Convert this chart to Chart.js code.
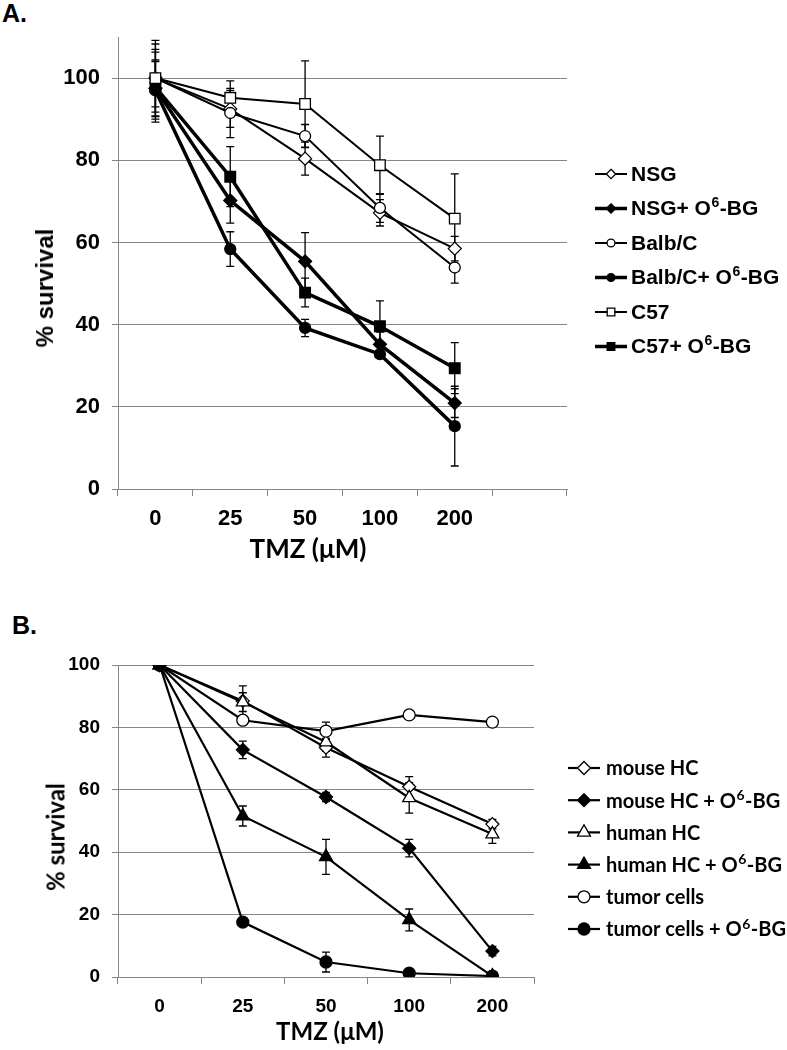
<!DOCTYPE html>
<html>
<head>
<meta charset="utf-8">
<script src="https://cdn.jsdelivr.net/npm/chart.js@4.4.1/dist/chart.umd.min.js"></script>
<style>
  body { margin: 0; background: #fff; width: 787px; height: 1050px; position: relative; overflow: hidden; }
  .panel { position: absolute; left: 0; width: 787px; }
  #boxA { top: 0; height: 570px; }
  #boxB { top: 570px; height: 480px; }
  .tag { position: absolute; font: bold 25px "Liberation Sans", Arial, sans-serif; color: #000; }
  .ttl { position: absolute; color: #000; font-weight: bold; white-space: nowrap; transform: translate(-50%, -50%); }
  .rot { transform: translate(-50%, -50%) rotate(-90deg); }
</style>
</head>
<body>
<div class="tag" style="left:2px;top:-1px">A.</div>
<div class="tag" style="left:12px;top:611px">B.</div>
<div class="panel" id="boxA"><canvas id="chartA" width="787" height="570"></canvas></div>
<div class="panel" id="boxB"><canvas id="chartB" width="787" height="480"></canvas></div>
<div class="ttl rot" style="left:45px;top:288px;font:bold 24px 'Liberation Sans',Arial,sans-serif">% survival</div>
<div class="ttl" style="left:308px;top:548px;font:bold 26px Lato,'Open Sans',sans-serif">TMZ (μM)</div>
<div class="ttl rot" style="left:55px;top:837px;font:bold 24px Lato,'Open Sans',sans-serif">% survival</div>
<div class="ttl" style="left:330px;top:1030px;font:bold 24px Lato,'Open Sans',sans-serif">TMZ (μM)</div>
<script>
// doses (categories)
const doses = ["0", "25", "50", "100", "200"];

// panel A - mean % survival
const namesA = ["NSG", "NSG+ O⁶-BG", "Balb/C", "Balb/C+ O⁶-BG", "C57", "C57+ O⁶-BG"];
const nsg    = [100, 92.5, 80.4, 67.2, 58.5];
const nsgBG  = [97.5, 70.2, 55.4, 35.2, 20.9];
const balb   = [100, 91.5, 85.9, 68.4, 53.9];
const balbBG = [97, 58.4, 39.2, 32.8, 15.3];
const c57    = [100, 95.2, 93.7, 78.8, 65.8];
const c57BG  = [97.8, 76, 47.8, 39.6, 29.4];
// panel A - error (+/-)
const nsgErr    = [7, 4.5, 4, 3.2, 3];
const nsgBGErr  = [6.9, 5.5, 7, 3, 3.5];
const balbErr   = [8.3, 6, 2.8, 3.5, 3.8];
const balbBGErr = [7, 4.2, 2.1, 1, 9.7];
const c57Err    = [9.2, 4.1, 10.5, 7.1, 10.9];
const c57BGErr  = [8.5, 7.3, 3.5, 6.2, 6.2];

// panel B - mean % survival
const namesB = ["mouse HC", "mouse HC + O⁶-BG", "human HC", "human HC + O⁶-BG", "tumor cells", "tumor cells + O⁶-BG"];
const mouseHC   = [100, 88.5, 73.5, 61, 49];
const mouseHCBG = [100, 72.8, 57.7, 41.3, 8.3];
const humanHC   = [100, 88.1, 75.3, 57.4, 45.8];
const humanHCBG = [100, 51.6, 38.5, 18.3, 0.3];
const tumor     = [100, 82.3, 78.8, 84, 81.7];
const tumorBG   = [100, 17.6, 4.8, 1.2, 0.3];
// panel B - error (+/-)
const mouseHCErr   = [0, 4.8, 3, 3.2, 1.5];
const mouseHCBGErr = [0, 2.8, 1.5, 2.8, 1.5];
const humanHCErr   = [0, 3, 3, 4.9, 3];
const humanHCBGErr = [0, 3.2, 5.6, 3.5, 0];
const tumorErr     = [0, 1, 2.9, 0.8, 0.8];
const tumorBGErr   = [0, 1, 3.2, 0.5, 0];

const GRID = "#868686";

// draw a marker shape (used by the side legend)
function marker(ctx, style, x, y, r, fill, bw) {
  ctx.beginPath();
  if (style === "circle") {
    ctx.arc(x, y, r, 0, Math.PI * 2);
  } else if (style === "rect") {
    const s = r * Math.SQRT1_2;
    ctx.rect(x - s, y - s, 2 * s, 2 * s);
  } else if (style === "rectRot") {
    ctx.moveTo(x, y - r); ctx.lineTo(x + r, y); ctx.lineTo(x, y + r); ctx.lineTo(x - r, y);
    ctx.closePath();
  } else if (style === "triangle") {
    for (let k = 0; k < 3; k++) {
      const a = k * 2 * Math.PI / 3;
      const px = x + Math.sin(a) * r, py = y - Math.cos(a) * r;
      k ? ctx.lineTo(px, py) : ctx.moveTo(px, py);
    }
    ctx.closePath();
  }
  ctx.fillStyle = fill;
  ctx.fill();
  ctx.lineWidth = bw;
  ctx.strokeStyle = "#000";
  ctx.stroke();
}

// label text with the "⁶" drawn as a raised small 6
function richText(ctx, text, x, y, size, family) {
  const parts = text.split("⁶");
  parts.forEach((p, k) => {
    ctx.font = "bold " + size + "px " + family;
    ctx.fillText(p, x, y);
    x += ctx.measureText(p).width;
    if (k < parts.length - 1) {
      ctx.font = "bold " + Math.round(size * 0.68) + "px " + family;
      ctx.fillText("6", x + 0.5, y - size * 0.3);
      x += ctx.measureText("6").width + 1;
    }
  });
}

// vertical error bars with caps, under the markers
const errorBars = {
  id: "errorBars",
  beforeDatasetsDraw(chart) {
    const { ctx, scales: { x, y } } = chart;
    ctx.save();
    ctx.strokeStyle = "#000";
    ctx.lineWidth = 1.3;
    chart.data.datasets.forEach(ds => {
      ds.errors.forEach((e, i) => {
        if (!e) return;
        const px = x.getPixelForValue(i);
        const top = y.getPixelForValue(ds.data[i] + e);
        const bot = y.getPixelForValue(ds.data[i] - e);
        ctx.beginPath();
        ctx.moveTo(px, top); ctx.lineTo(px, bot);
        ctx.moveTo(px - 4, top); ctx.lineTo(px + 4, top);
        ctx.moveTo(px - 4, bot); ctx.lineTo(px + 4, bot);
        ctx.stroke();
      });
    });
    ctx.restore();
  }
};

// legend on the right: short line with marker, then the name
const sideLegend = {
  id: "sideLegend",
  afterDraw(chart, args, o) {
    const ctx = chart.ctx;
    ctx.save();
    chart.data.datasets.forEach((ds, i) => {
      const y = o.top + i * o.gap;
      ctx.strokeStyle = "#000";
      ctx.lineWidth = ds.borderWidth;
      ctx.beginPath();
      ctx.moveTo(o.left, y);
      ctx.lineTo(o.left + o.lineLen, y);
      ctx.stroke();
      marker(ctx, ds.pointStyle, o.left + o.lineLen / 2, y, ds.pointRadius * o.scale, ds.pointBackgroundColor, 1.3);
      ctx.fillStyle = "#000";
      ctx.textBaseline = "middle";
      richText(ctx, ds.label, o.left + o.lineLen + o.textGap, y + 1, o.size, o.family);
    });
    ctx.restore();
  }
};

function series(label, data, errors, style, filled, width, radius, order) {
  return {
    label, data, errors, order,
    borderColor: "#000",
    borderWidth: width,
    pointStyle: style,
    pointRadius: radius,
    pointBackgroundColor: filled ? "#000" : "#fff",
    pointBorderColor: "#000",
    pointBorderWidth: 1.3,
    tension: 0
  };
}

function makeChart(id, datasets, labels, cfg) {
  return new Chart(document.getElementById(id), {
    type: "line",
    data: { labels, datasets },
    plugins: [errorBars, sideLegend],
    options: {
      responsive: false,
      animation: false,
      layout: { padding: { left: 0, right: cfg.right, top: cfg.top, bottom: 0 } },
      plugins: {
        legend: { display: false },
        tooltip: { enabled: false },
        sideLegend: cfg.legend
      },
      scales: {
        x: {
          type: "category",
          offset: true,
          grid: { offset: true, drawOnChartArea: false, tickLength: 7, color: GRID },
          border: { color: GRID, width: 1 },
          ticks: { color: "#000", padding: cfg.xPad, font: { family: "'Liberation Sans', Arial", size: cfg.tickSize, weight: "bold" } },
          afterFit(s) { s.height = cfg.xHeight; s.paddingLeft = 0; s.paddingRight = 0; }
        },
        y: {
          min: 0,
          max: cfg.yMax,
          ticks: { stepSize: 20, color: "#000", padding: 12, font: { family: "'Liberation Sans', Arial", size: cfg.tickSize, weight: "bold" } },
          afterBuildTicks(s) { s.ticks = s.ticks.filter(t => t.value % 20 === 0); },
          grid: { color: GRID, tickLength: 6, lineWidth: 1 },
          border: { color: GRID, width: 1 },
          afterFit(s) { s.width = 118; s.paddingTop = 0; s.paddingBottom = 0; }
        }
      }
    }
  });
}

makeChart("chartA", [
  series(namesA[0], nsg, nsgErr, "rectRot", false, 2, 6.5, 3),
  series(namesA[1], nsgBG, nsgBGErr, "rectRot", true, 3.5, 6.5, 4),
  series(namesA[2], balb, balbErr, "circle", false, 2, 5.5, 2),
  series(namesA[3], balbBG, balbBGErr, "circle", true, 3.5, 5.5, 5),
  series(namesA[4], c57, c57Err, "rect", false, 2, 7.5, 0),
  series(namesA[5], c57BG, c57BGErr, "rect", true, 3.5, 7.5, 1)
], doses.concat([""]), {
  right: 220, top: 37, yMax: 110, xHeight: 81, xPad: 10, tickSize: 22,
  legend: { left: 595, top: 174, gap: 34.5, lineLen: 32, textGap: 4, scale: 0.72, size: 21, family: "'Liberation Sans', Arial" }
});

makeChart("chartB", [
  series(namesB[0], mouseHC, mouseHCErr, "rectRot", false, 2.2, 6.5, 3),
  series(namesB[1], mouseHCBG, mouseHCBGErr, "rectRot", true, 2.2, 6.5, 4),
  series(namesB[2], humanHC, humanHCErr, "triangle", false, 2.2, 7.5, 2),
  series(namesB[3], humanHCBG, humanHCBGErr, "triangle", true, 2.2, 7.5, 5),
  series(namesB[4], tumor, tumorErr, "circle", false, 2.2, 6, 1),
  series(namesB[5], tumorBG, tumorBGErr, "circle", true, 2.2, 6, 0)
], doses, {
  right: 253, top: 95, yMax: 100, xHeight: 73, xPad: 11, tickSize: 19,
  legend: { left: 568, top: 198, gap: 32.2, lineLen: 32, textGap: 6, scale: 1, size: 20, family: "Lato, 'Open Sans', sans-serif" }
});
</script>
</body>
</html>
